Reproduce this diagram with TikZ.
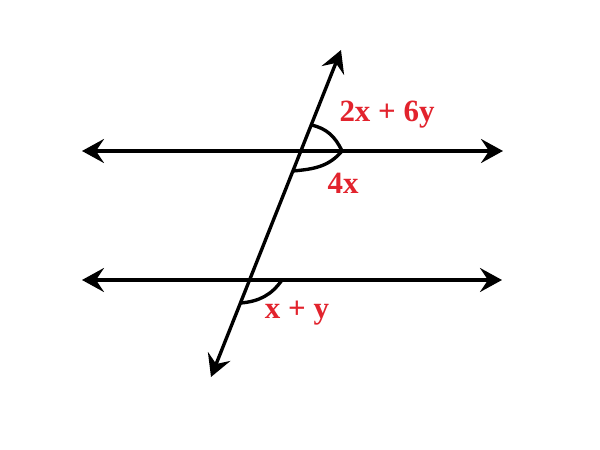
\documentclass[tikz,border=0pt]{standalone}
\usepackage{tikz}
\usepackage{tkz-euclide}
\usepackage{fontspec}
\setmainfont{Liberation Serif}
\usetikzlibrary{arrows.meta}
\definecolor{anglered}{RGB}{226,35,45}

\begin{document}
\begin{tikzpicture}[>={Stealth[length=0.55cm,width=0.6cm,inset=0.2cm]},
    angle label/.style={text=anglered,font=\fontsize{22}{26}\selectfont\bfseries}]
    \useasboundingbox (0,0) rectangle (15,11.25);
    \tkzDefPoint(2.05,7.475){A}
    \tkzDefPoint(12.575,7.475){B}
    \tkzDefPoint(2.05,4.25){C}
    \tkzDefPoint(12.55,4.25){D}
    \tkzDefPoint(8.525,10){T}
    \tkzDefPoint(5.275,1.825){S}
    \tkzDrawSegments[<->,line width=2.4pt,color=black](A,B C,D T,S)
    % angle marks
    \tkzDefPoint(8.55,7.475){E}
    \tkzDefPoint(7.78,8.125){F}
    \tkzDefPoint(7.32,6.975){G}
    \tkzDefPoint(7.05,4.25){H}
    \tkzDefPoint(6.02,3.675){K}
    \draw[line width=2.4pt] (F) to[out=-12,in=115] (E);
    \draw[line width=2.4pt] (E) to[out=-130,in=5] (G);
    \draw[line width=2.4pt] (H) to[out=-125,in=5] (K);
    \node[angle label] (upper) at (9.675,8.375) {2x + 6y};
    \node[angle label] (lower) at (8.575,6.675) {4x};
    \node[angle label] (bottom) at (7.425,3.425) {x + y};
  \end{tikzpicture}
\end{document}
